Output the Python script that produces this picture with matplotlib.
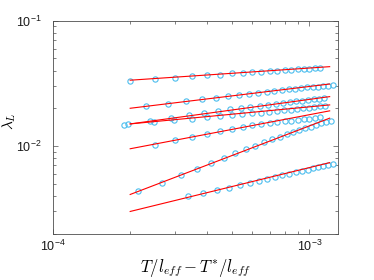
import matplotlib
matplotlib.use("Agg")
import matplotlib.pyplot as plt
import numpy as np

plt.rcParams["font.family"] = ["Liberation Sans", "DejaVu Sans"]
plt.rcParams["mathtext.fontset"] = "cm"

# x values in units of 1e-4 (T/l_eff - T*/l_eff)
x1 = [2.0, 2.5, 3.0, 3.5, 4.0, 4.5, 5.0, 5.5, 6.0, 6.5, 7.0, 7.5, 8.0, 8.5, 9.0, 9.5, 10.0, 10.5, 11.0]
x2 = [2.31, 2.81, 3.31, 3.81, 4.31, 4.81, 5.31, 5.81, 6.31, 6.81, 7.31, 7.81, 8.31, 8.81, 9.31, 9.81,
      10.31, 10.81, 11.31, 11.81, 12.31]
x3 = [1.89, 2.39, 2.89, 3.39, 3.89, 4.39, 4.89, 5.39, 5.89, 6.39, 6.89, 7.39, 7.89, 8.39, 8.89, 9.39,
      9.89, 10.39, 10.89, 11.39]
x4 = [1.97, 2.47, 2.97, 3.47, 3.97, 4.47, 4.97, 5.47, 5.97, 6.47, 6.97, 7.47, 7.97, 8.47, 8.97, 9.47,
      9.97, 10.47, 10.97, 11.47]
x5 = [2.5, 3.0, 3.5, 4.0, 4.5, 5.0, 5.5, 6.0, 6.5, 7.0, 7.5, 8.0, 8.5, 9.0, 9.5, 10.0, 10.5, 11.0]
x6 = [2.15, 2.65, 3.15, 3.65, 4.15, 4.65, 5.15, 5.65, 6.15, 6.65, 7.15, 7.65, 8.15, 8.65, 9.15, 9.65,
      10.15, 10.65, 11.15, 11.65, 12.15]
x7 = [3.35, 3.85, 4.35, 4.85, 5.35, 5.85, 6.35, 6.85, 7.35, 7.85, 8.35, 8.85, 9.35, 9.85, 10.35, 10.85,
      11.35, 11.85, 12.35]

# lambda_L values
y1 = [0.0333, 0.0343, 0.0352, 0.0361, 0.0366, 0.0372, 0.0379, 0.0383, 0.0390, 0.0393, 0.0397, 0.0400,
      0.0403, 0.0406, 0.0410, 0.0412, 0.0415, 0.0418, 0.0420]
y2 = [0.0209, 0.0218, 0.0229, 0.0236, 0.0243, 0.0250, 0.0256, 0.0261, 0.0267, 0.0272, 0.0277, 0.0281,
      0.0284, 0.0286, 0.0289, 0.0293, 0.0295, 0.0298, 0.0302, 0.0303, 0.0306]
y3 = [0.01475, 0.01596, 0.01687, 0.01772, 0.01838, 0.01907, 0.01968, 0.02016, 0.02060, 0.02103,
      0.02142, 0.02177, 0.02209, 0.02242, 0.02271, 0.02301, 0.02326, 0.02351, 0.02373, 0.02395]
y4 = [0.01511, 0.01567, 0.01608, 0.01656, 0.01699, 0.01730, 0.01763, 0.01792, 0.01822, 0.01849,
      0.01876, 0.01904, 0.01929, 0.01953, 0.01979, 0.02004, 0.02027, 0.02049, 0.02068, 0.02087]
y5 = [0.01023, 0.01107, 0.01184, 0.01245, 0.01306, 0.01365, 0.01416, 0.01457, 0.01503, 0.01531,
      0.01559, 0.01579, 0.01597, 0.01618, 0.01638, 0.01656, 0.01679, 0.01694]
y6 = [0.00434, 0.00509, 0.00582, 0.00655, 0.00726, 0.00795, 0.00878, 0.00938, 0.01004, 0.01067,
      0.01127, 0.01184, 0.01236, 0.01291, 0.01346, 0.01396, 0.01430, 0.01475, 0.01521, 0.01559, 0.01597]
y7 = [0.00401, 0.00424, 0.00445, 0.00466, 0.00487, 0.00508, 0.00528, 0.00547, 0.00565, 0.00583,
      0.00600, 0.00617, 0.00633, 0.00648, 0.00663, 0.00677, 0.00692, 0.00706, 0.00720]

# power-law fits: value at x = 2e-4 and exponent
fit_start = [0.0335, 0.0200, 0.0150, 0.0150, 0.0095, 0.0041, 0.0030]
fit_exp = [0.139, 0.249, 0.280, 0.195, 0.389, 0.783, 0.501]
fit_range = [2e-4, 1.2e-3]

xs = [x1, x2, x3, x4, x5, x6, x7]
ys = [y1, y2, y3, y4, y5, y6, y7]

fig = plt.figure(figsize=(3.74, 2.8), dpi=100)
ax = fig.add_axes([0.1417, 0.166, 0.7613, 0.760])

for x, y in zip(xs, ys):
    ax.plot(np.array(x) * 1e-4, y, "o", mfc="none", mec="#4DBEEE", ms=3.8, mew=0.8)

xf = np.array(fit_range)
for a, p in zip(fit_start, fit_exp):
    ax.plot(xf, a * (xf / fit_range[0]) ** p, "r-", lw=0.8)

ax.set_xscale("log")
ax.set_yscale("log")
ax.set_xlim(1e-4, 1.29e-3)
ax.set_ylim(2e-3, 1e-1)
ax.set_xticks([1e-4, 1e-3])
ax.set_yticks([1e-2, 1e-1])

for s in ax.spines.values():
    s.set_color("0.3")
    s.set_linewidth(0.6)
ax.tick_params(which="both", direction="in", top=True, right=True, colors="0.3",
               labelcolor="0.1", labelsize=9, width=0.5)
ax.tick_params(which="major", length=3.5)
ax.tick_params(which="minor", length=2)
ax.tick_params(axis="y", pad=8)
ax.tick_params(axis="x", pad=4)

ax.set_xlabel(r"$T/l_{eff} - T^{*}/l_{eff}$", fontsize=12, labelpad=2)
ax.set_ylabel(r"$\lambda_L$", fontsize=11)
ax.yaxis.set_label_coords(-0.122, 0.53)

fig.savefig("out.png", dpi=100)
